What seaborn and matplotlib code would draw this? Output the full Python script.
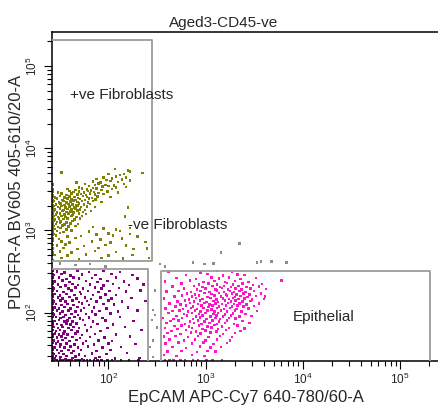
import numpy as np
import pandas as pd
import matplotlib
matplotlib.use("Agg")
import matplotlib.pyplot as plt
import seaborn as sns
from matplotlib.ticker import LogLocator, NullFormatter

sns.set_style("white")
plt.rcParams["font.family"] = ["Liberation Sans", "DejaVu Sans"]
plt.rcParams["mathtext.fontset"] = "custom"
plt.rcParams["mathtext.rm"] = "Liberation Sans"

# ---------------- data (log10 units) ----------------
X_MIN, X_MAX = 26.5, 262144
Y_MIN, Y_MAX = 25.8, 262144

# +ve fibroblasts (olive): (log10 EpCAM, log10 PDGFR-A)
green_pts = [
    (2.07,3.745),(2.20,3.73),(1.52,3.705),(2.22,3.716),(2.35,3.70),
    (2.00,3.688),(2.12,3.672),(2.16,3.69),(1.95,3.643),(2.08,3.658),(2.18,3.647),
    (1.88,3.627),(1.98,3.612),(2.04,3.631),(2.14,3.618),(2.22,3.606),
    (1.67,3.584),(1.84,3.597),(1.92,3.581),(2.02,3.602),(2.10,3.588),
    (1.76,3.566),(1.86,3.551),(1.90,3.572),(1.97,3.556),(2.06,3.548),(2.16,3.563),
    (1.70,3.524),(1.80,3.538),(1.84,3.519),(1.94,3.535),(2.00,3.541),(2.08,3.522),(2.18,3.530),
    (1.58,3.506),(1.66,3.492),(1.73,3.511),(1.78,3.497),(1.82,3.489),(1.88,3.508),(1.93,3.494),(2.04,3.503),
    (1.48,3.463),(1.60,3.478),(1.64,3.466),(1.70,3.474),(1.75,3.459),(1.79,3.481),(1.85,3.468),(1.90,3.457),(1.99,3.476),(2.10,3.464),
    (1.52,3.447),(1.57,3.433),(1.62,3.451),(1.68,3.436),(1.72,3.445),(1.77,3.429),(1.81,3.452),(1.86,3.438),(1.95,3.444),
    (1.45,3.404),(1.50,3.418),(1.55,3.401),(1.60,3.415),(1.65,3.407),(1.69,3.396),(1.74,3.421),(1.78,3.409),(1.83,3.397),(1.89,3.416),(2.02,3.405),
    (1.47,3.386),(1.53,3.372),(1.58,3.389),(1.62,3.375),(1.66,3.368),(1.71,3.384),(1.76,3.373),(1.80,3.391),(1.87,3.377),
    (1.44,3.357),(1.49,3.343),(1.54,3.361),(1.57,3.339),(1.61,3.352),(1.64,3.364),(1.68,3.345),(1.73,3.356),(1.79,3.341),(1.84,3.358),(1.93,3.347),
    (1.46,3.314),(1.51,3.328),(1.55,3.311),(1.59,3.325),(1.63,3.318),(1.67,3.306),(1.70,3.331),(1.75,3.316),(1.81,3.323),
    (1.44,3.297),(1.48,3.283),(1.52,3.299),(1.56,3.281),(1.60,3.294),(1.65,3.279),(1.69,3.301),(1.72,3.286),(1.78,3.293),(1.86,3.284),(2.20,3.282),
    (1.45,3.256),(1.50,3.267),(1.54,3.251),(1.58,3.264),(1.62,3.253),(1.66,3.269),(1.71,3.257),(1.76,3.248),
    (1.44,3.236),(1.47,3.221),(1.53,3.238),(1.57,3.224),(1.61,3.233),(1.64,3.219),(1.68,3.241),(1.74,3.227),(1.82,3.235),
    (1.46,3.193),(1.50,3.207),(1.55,3.196),(1.59,3.209),(1.63,3.191),(1.70,3.204),(1.77,3.198),
    (1.44,3.176),(1.48,3.162),(1.52,3.179),(1.56,3.165),(1.62,3.173),(1.67,3.161),(1.73,3.177),(2.17,3.168),
    (1.45,3.134),(1.49,3.148),(1.54,3.137),(1.58,3.145),(1.65,3.131),(1.71,3.143),
    (1.44,3.116),(1.47,3.103),(1.51,3.112),(1.57,3.098),(1.63,3.118),
    (1.46,3.077),(1.50,3.088),(1.55,3.072),(1.61,3.084),(1.69,3.079),
    (1.44,3.053),(1.48,3.041),(1.53,3.058),(1.59,3.046),(1.66,3.055),(1.84,3.043),
    (1.45,3.016),(1.51,3.027),(1.57,3.011),(1.95,3.024),(2.08,3.013),(2.22,3.028),
    (1.47,2.994),(1.54,2.982),(1.62,2.997),(1.80,2.986),(2.12,2.993),
    (1.44,2.955),(1.50,2.968),(1.88,2.951),(2.00,2.963),(2.22,2.957),
    (1.46,2.936),(1.58,2.924),(1.72,2.931),(2.05,2.938),(2.30,2.927),
    (1.49,2.895),(1.66,2.907),(1.92,2.891),(2.14,2.904),
    (1.52,2.864),(1.60,2.852),(1.83,2.867),(2.02,2.855),(2.38,2.862),
    (1.47,2.815),(1.56,2.827),(1.75,2.813),(1.97,2.824),(2.18,2.818),
    (1.54,2.785),(1.68,2.772),(1.90,2.788),(2.26,2.776),(2.40,2.783),
    (1.50,2.743),(1.62,2.734),(1.86,2.747),(2.08,2.736),
    (1.45,2.704),(1.58,2.693),(1.77,2.706),(2.00,2.697),(2.25,2.702),
    (1.52,2.664),(1.70,2.653),(1.93,2.667),(2.15,2.657),(2.42,2.662),
]
# olive events piled up on the left axis (log10 PDGFR-A)
green_edge_ly = [3.56, 3.50, 3.47, 3.43, 3.41, 3.37, 3.35, 3.31, 3.29, 3.26,
                 3.22, 3.20, 3.16, 3.14, 3.10, 3.07, 3.05, 3.01, 2.98, 2.95,
                 2.90, 2.87, 2.82, 2.78, 2.73, 2.70, 2.64]

# -ve fibroblasts (purple)
purple_pts = [
    (1.47,2.503),(1.55,2.489),(1.68,2.511),(1.80,2.494),(1.95,2.506),(2.12,2.492),
    (1.44,2.457),(1.52,2.468),(1.61,2.452),(1.73,2.466),(1.87,2.455),(2.03,2.471),(2.25,2.458),
    (1.49,2.426),(1.57,2.412),(1.64,2.429),(1.70,2.415),(1.83,2.423),(1.92,2.409),(2.08,2.427),(2.30,2.416),
    (1.45,2.377),(1.53,2.391),(1.60,2.373),(1.77,2.386),(1.89,2.371),(1.99,2.384),(2.16,2.378),
    (1.48,2.345),(1.56,2.331),(1.63,2.348),(1.69,2.336),(1.81,2.343),(1.95,2.329),(2.05,2.347),(2.21,2.334),(2.36,2.341),
    (1.44,2.296),(1.51,2.309),(1.59,2.292),(1.66,2.305),(1.74,2.294),(1.86,2.307),(1.93,2.291),(2.11,2.303),
    (1.47,2.263),(1.54,2.251),(1.62,2.267),(1.71,2.254),(1.79,2.265),(1.90,2.249),(2.01,2.262),(2.18,2.256),(2.33,2.268),
    (1.45,2.224),(1.50,2.211),(1.57,2.228),(1.65,2.215),(1.72,2.226),(1.84,2.212),(1.97,2.223),(2.08,2.217),
    (1.48,2.186),(1.53,2.172),(1.60,2.188),(1.67,2.175),(1.76,2.183),(1.82,2.169),(1.92,2.187),(2.03,2.174),(2.24,2.181),
    (1.44,2.137),(1.51,2.149),(1.56,2.133),(1.63,2.146),(1.70,2.131),(1.78,2.144),(1.88,2.136),(2.00,2.148),(2.14,2.134),(2.38,2.142),
    (1.46,2.104),(1.52,2.092),(1.58,2.107),(1.64,2.095),(1.73,2.109),(1.80,2.093),(1.95,2.106),(2.06,2.097),
    (1.45,2.063),(1.49,2.051),(1.55,2.066),(1.61,2.053),(1.68,2.068),(1.75,2.055),(1.85,2.064),(1.98,2.052),(2.20,2.061),
    (1.47,2.024),(1.53,2.011),(1.59,2.027),(1.66,2.013),(1.72,2.026),(1.83,2.014),(1.91,2.023),(2.10,2.016),(2.30,2.025),
    (1.44,1.977),(1.50,1.989),(1.56,1.973),(1.62,1.986),(1.69,1.971),(1.77,1.984),(1.87,1.975),(2.02,1.988),
    (1.46,1.944),(1.51,1.932),(1.54,1.948),(1.60,1.935),(1.65,1.946),(1.71,1.931),(1.80,1.943),(1.94,1.934),(2.12,1.947),
    (1.45,1.897),(1.49,1.909),(1.55,1.893),(1.58,1.906),(1.63,1.895),(1.74,1.908),(1.84,1.892),(1.97,1.904),(2.26,1.898),
    (1.47,1.863),(1.52,1.851),(1.57,1.866),(1.61,1.854),(1.67,1.867),(1.76,1.852),(1.89,1.864),(2.05,1.856),
    (1.44,1.824),(1.48,1.811),(1.53,1.827),(1.59,1.814),(1.64,1.826),(1.70,1.812),(1.82,1.823),(1.99,1.815),(2.17,1.828),
    (1.46,1.777),(1.50,1.789),(1.55,1.773),(1.62,1.786),(1.68,1.771),(1.78,1.784),(1.92,1.776),(2.34,1.787),
    (1.45,1.744),(1.49,1.732),(1.54,1.747),(1.58,1.735),(1.66,1.746),(1.73,1.731),(1.86,1.743),(2.08,1.736),
    (1.47,1.697),(1.52,1.708),(1.56,1.693),(1.63,1.706),(1.71,1.692),(1.81,1.704),(1.96,1.695),(2.22,1.707),
    (1.44,1.663),(1.48,1.651),(1.53,1.666),(1.60,1.654),(1.67,1.668),(1.77,1.653),(1.90,1.664),(2.04,1.656),
    (1.46,1.624),(1.51,1.612),(1.57,1.627),(1.65,1.613),(1.74,1.626),(1.85,1.614),(2.00,1.623),(2.28,1.616),
    (1.45,1.577),(1.50,1.589),(1.55,1.573),(1.61,1.586),(1.69,1.574),(1.79,1.587),(1.94,1.575),(2.13,1.584),
    (1.47,1.544),(1.52,1.532),(1.59,1.547),(1.64,1.535),(1.72,1.546),(1.88,1.533),(2.02,1.543),
    (1.44,1.497),(1.49,1.508),(1.54,1.494),(1.62,1.506),(1.70,1.493),(1.83,1.504),(1.98,1.496),(2.19,1.507),
    (1.46,1.473),(1.51,1.462),(1.57,1.475),(1.66,1.464),(1.76,1.471),(1.91,1.463),
    (1.45,1.443),(1.50,1.451),(1.56,1.438),(1.63,1.447),(1.73,1.436),(1.87,1.449),(2.07,1.441),(2.32,1.446),
]
# purple events piled up on the left axis (log10 y) and the bottom axis (log10 x)
purple_left_ly = [2.51, 2.47, 2.43, 2.38, 2.35, 2.31, 2.27, 2.22, 2.19, 2.15,
                  2.11, 2.06, 2.03, 1.99, 1.95, 1.90, 1.87, 1.83, 1.79, 1.74,
                  1.71, 1.67, 1.63, 1.58, 1.55, 1.51, 1.47, 1.44]
purple_bottom_lx = [1.44, 1.47, 1.51, 1.53, 1.57, 1.60, 1.62, 1.66, 1.69, 1.71,
                    1.75, 1.78, 1.81, 1.85, 1.89, 1.93, 1.99, 2.04, 2.13, 2.21,
                    2.31]

# epithelial (pink)
pink_pts = [
    (2.62,2.503),(2.95,2.491),(3.12,2.508),(3.27,2.495),
    (2.80,2.457),(3.02,2.469),(3.18,2.452),(3.33,2.466),(3.40,2.455),
    (2.70,2.424),(2.90,2.411),(3.06,2.427),(3.14,2.414),(3.24,2.426),(3.36,2.412),(3.52,2.423),
    (2.58,2.377),(2.84,2.389),(2.98,2.373),(3.09,2.386),(3.20,2.371),(3.30,2.384),(3.44,2.375),(3.78,2.392),
    (2.75,2.352),(2.93,2.341),(3.03,2.356),(3.12,2.344),(3.22,2.358),(3.28,2.343),(3.38,2.354),(3.49,2.339),(3.58,2.351),
    (2.66,2.317),(2.88,2.326),(2.97,2.312),(3.07,2.324),(3.15,2.309),(3.19,2.327),(3.26,2.314),(3.34,2.323),(3.42,2.311),(3.55,2.321),
    (2.78,2.293),(2.91,2.281),(3.00,2.295),(3.10,2.283),(3.17,2.297),(3.23,2.282),(3.31,2.294),(3.37,2.279),(3.46,2.292),(3.62,2.286),
    (2.60,2.257),(2.72,2.266),(2.85,2.251),(2.95,2.264),(3.04,2.253),(3.12,2.267),(3.19,2.252),(3.25,2.265),(3.29,2.249),(3.35,2.262),(3.41,2.254),(3.50,2.266),
    (2.81,2.234),(2.89,2.221),(2.99,2.236),(3.06,2.224),(3.14,2.238),(3.21,2.222),(3.27,2.235),(3.32,2.219),(3.39,2.233),(3.45,2.221),(3.57,2.231),
    (2.68,2.197),(2.76,2.209),(2.86,2.194),(2.93,2.206),(3.02,2.192),(3.09,2.208),(3.16,2.195),(3.22,2.207),(3.30,2.191),(3.36,2.204),(3.43,2.193),(3.52,2.205),(3.61,2.198),
    (2.57,2.173),(2.83,2.162),(2.90,2.176),(2.97,2.164),(3.05,2.178),(3.11,2.161),(3.18,2.174),(3.24,2.163),(3.28,2.177),(3.34,2.165),(3.40,2.172),(3.48,2.161),(3.60,2.169),
    (2.71,2.137),(2.79,2.148),(2.88,2.133),(2.94,2.146),(3.01,2.131),(3.08,2.144),(3.13,2.132),(3.20,2.147),(3.26,2.134),(3.31,2.145),(3.38,2.136),(3.46,2.143),
    (2.63,2.113),(2.74,2.102),(2.84,2.116),(2.92,2.104),(2.99,2.117),(3.04,2.101),(3.10,2.114),(3.17,2.103),(3.23,2.118),(3.29,2.105),(3.35,2.112),(3.42,2.099),(3.55,2.109),
    (2.69,2.077),(2.80,2.088),(2.87,2.073),(2.96,2.086),(3.03,2.071),(3.07,2.089),(3.14,2.074),(3.21,2.087),(3.27,2.072),(3.33,2.085),(3.39,2.076),(3.50,2.083),
    (2.59,2.053),(2.77,2.042),(2.85,2.056),(2.91,2.044),(2.98,2.058),(3.06,2.041),(3.12,2.055),(3.19,2.043),(3.25,2.057),(3.32,2.046),(3.44,2.052),
    (2.66,2.017),(2.73,2.026),(2.82,2.012),(2.89,2.024),(2.95,2.011),(3.02,2.027),(3.09,2.013),(3.16,2.025),(3.22,2.014),(3.30,2.028),(3.37,2.016),(3.53,2.023),
    (2.62,1.993),(2.78,1.981),(2.86,1.995),(2.93,1.983),(3.00,1.997),(3.08,1.982),(3.13,1.994),(3.20,1.979),(3.28,1.992),(3.41,1.985),
    (2.70,1.957),(2.81,1.966),(2.90,1.952),(2.97,1.964),(3.05,1.951),(3.11,1.967),(3.18,1.953),(3.26,1.965),(3.35,1.954),(3.47,1.962),
    (2.56,1.934),(2.67,1.922),(2.76,1.936),(2.87,1.924),(2.94,1.938),(3.01,1.921),(3.10,1.935),(3.15,1.923),(3.24,1.937),(3.31,1.926),
    (2.64,1.897),(2.72,1.906),(2.84,1.893),(2.92,1.905),(2.99,1.891),(3.07,1.907),(3.14,1.894),(3.22,1.904),(3.38,1.896),
    (2.60,1.873),(2.79,1.862),(2.88,1.876),(2.96,1.864),(3.04,1.877),(3.12,1.861),(3.20,1.874),(3.29,1.863),(3.45,1.871),
    (2.68,1.837),(2.75,1.846),(2.83,1.833),(2.93,1.845),(3.02,1.831),(3.09,1.847),(3.17,1.834),(3.33,1.843),
    (2.58,1.813),(2.71,1.802),(2.86,1.816),(2.97,1.804),(3.06,1.817),(3.13,1.801),(3.24,1.814),(3.40,1.806),
    (2.65,1.777),(2.80,1.786),(2.90,1.772),(3.00,1.784),(3.11,1.771),(3.21,1.787),(3.36,1.775),
    (2.61,1.753),(2.74,1.742),(2.85,1.756),(2.95,1.744),(3.05,1.757),(3.18,1.741),(3.30,1.752),
    (2.57,1.707),(2.69,1.716),(2.82,1.703),(2.92,1.715),(3.03,1.701),(3.15,1.714),(3.27,1.705),
    (2.63,1.673),(2.78,1.662),(2.89,1.676),(3.00,1.664),(3.12,1.674),(3.25,1.661),
    (2.59,1.627),(2.72,1.636),(2.86,1.623),(2.98,1.635),(3.08,1.621),(3.22,1.633),
    (2.66,1.583),(2.80,1.572),(2.94,1.586),(3.05,1.574),(3.16,1.581),
    (2.61,1.527),(2.75,1.536),(2.91,1.523),(3.02,1.534),(3.10,1.526),
    (2.57,1.483),(2.70,1.472),(2.86,1.485),(2.99,1.474),
]
# pink events piled up on the bottom axis (log10 x)
pink_bottom_lx = [2.58, 2.63, 2.67, 2.74, 2.79, 2.87, 2.92, 3.01, 3.07, 3.17]

# ungated events (gray)
gray_lx = [2.46, 2.48, 2.45, 2.50, 2.46, 2.43, 2.46, 2.48, 3.35, 3.16, 3.08,
           2.99, 3.53, 3.57, 3.68, 3.83, 2.87, 1.50, 1.66, 1.81, 1.97, 2.53, 2.58]
gray_ly = [2.03, 1.97, 1.91, 1.82, 1.66, 1.58, 1.46, 2.27, 2.84, 2.73, 2.60,
           2.59, 2.61, 2.62, 2.62, 2.61, 2.61, 2.60, 2.58, 2.59, 2.56, 2.59, 2.56]

# gates (linear units, closed polygons)
gate_pos_x = [20, 284, 284, 20, 20]
gate_pos_y = [425, 425, 205000, 205000, 425]
gate_neg_x = [20, 258, 258, 20, 20]
gate_neg_y = [20, 20, 336, 336, 20]
gate_epi_x = [348, 204000, 204000, 348, 348]
gate_epi_y = [20, 20, 321, 321, 20]

# ---------------- build table ----------------
EDGE_LX = 1.432   # left-axis pile-up position (log10)
EDGE_LY = 1.420   # bottom-axis pile-up position (log10)

recs = []
recs += [(a, b, "pos") for a, b in green_pts]
recs += [(EDGE_LX, b, "pos") for b in green_edge_ly]
recs += [(a, b, "neg") for a, b in purple_pts]
recs += [(EDGE_LX, b, "neg") for b in purple_left_ly]
recs += [(a, EDGE_LY, "neg") for a in purple_bottom_lx]
recs += [(a, b, "epi") for a, b in pink_pts]
recs += [(a, EDGE_LY, "epi") for a in pink_bottom_lx]
recs += [(a, b, "other") for a, b in zip(gray_lx, gray_ly)]
df = pd.DataFrame(recs, columns=["lx", "ly", "pop"])
df["x"] = 10 ** df["lx"]
df["y"] = 10 ** df["ly"]

palette = {"pos": "#808000", "neg": "#800080", "epi": "#ff14c8", "other": "#8c8c8c"}

# ---------------- figure ----------------
fig = plt.figure(figsize=(4.39, 4.13), dpi=100)
ax = fig.add_axes([52.3 / 439, 1 - 361 / 413, 388.4 / 439, 329.3 / 413])

sns.scatterplot(data=df, x="x", y="y", hue="pop", palette=palette, marker="s",
                s=3.2, linewidth=0, legend=False, ax=ax, zorder=2)

ax.set_xscale("log")
ax.set_yscale("log")
ax.set_xlim(X_MIN, X_MAX)
ax.set_ylim(Y_MIN, Y_MAX)

gate_color = "#9c9c9c"
for gxs, gys in [(gate_pos_x, gate_pos_y), (gate_neg_x, gate_neg_y), (gate_epi_x, gate_epi_y)]:
    ax.plot(gxs, gys, color=gate_color, lw=1.3, zorder=3)

ax.text(40.4, 39400, "+ve Fibroblasts", fontsize=11, ha="left", va="baseline")
ax.text(161, 1030, "-ve Fibroblasts", fontsize=11, ha="left", va="baseline")
ax.text(7890, 79, "Epithelial", fontsize=11, ha="left", va="baseline")

for axis in (ax.xaxis, ax.yaxis):
    axis.set_major_locator(LogLocator(base=10, numticks=12))
    axis.set_minor_locator(LogLocator(base=10, subs=np.arange(2, 10), numticks=40))
    axis.set_minor_formatter(NullFormatter())

ax.tick_params(which="major", direction="out", length=6, width=0.8, labelsize=8.5,
               color="black", bottom=True, left=True, top=False, right=False)
ax.tick_params(which="minor", direction="out", length=3.8, width=0.8,
               color="black", bottom=True, left=True, top=False, right=False)
ax.tick_params(axis="x", which="major", pad=2)
ax.tick_params(axis="y", which="major", pad=3, labelrotation=90)
for lab in ax.get_yticklabels():
    lab.set_va("center")

for side in ["top", "left", "bottom", "right"]:
    ax.spines[side].set_color("black")
    ax.spines[side].set_linewidth(1.1)

ax.set_xlabel("EpCAM APC-Cy7 640-780/60-A", fontsize=12, va="baseline")
ax.xaxis.set_label_coords((246 - 52.3) / 388.4, (361 - 401.7) / 329.3)
ax.set_ylabel("PDGFR-A BV605 405-610/20-A", fontsize=12, va="baseline")
ax.yaxis.set_label_coords((20.7 - 52.3) / 388.4, (361 - 192) / 329.3)

fig.text(224 / 439, 1 - 27.3 / 413, "Aged3-CD45-ve", fontsize=11, ha="center", va="baseline")

fig.savefig("out.png", dpi=100)
